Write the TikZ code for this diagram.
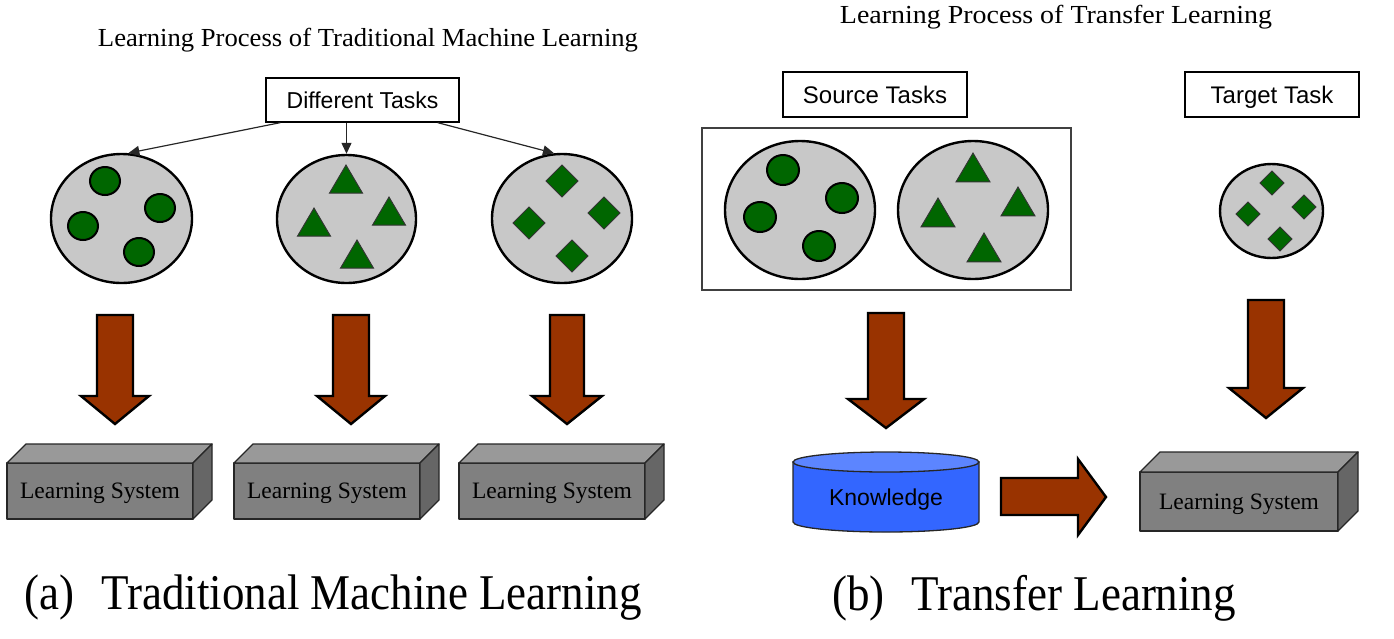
\documentclass[tikz,border=0pt]{standalone}
\usepackage{fontspec}
\setmainfont{Liberation Serif}
\newfontfamily\arialf{Liberation Sans}
\usetikzlibrary{shapes.geometric,arrows.meta,calc}
\definecolor{taskgray}{RGB}{200,200,200}
\definecolor{dotgreen}{RGB}{0,102,0}
\definecolor{brownarr}{RGB}{153,51,0}
\definecolor{kblue}{RGB}{51,102,255}
\definecolor{kbluetop}{RGB}{92,133,255}
\definecolor{frontgray}{RGB}{128,128,128}
\definecolor{topgray}{RGB}{153,153,153}
\definecolor{sidegray}{RGB}{102,102,102}
\newcommand\fs[1]{\fontsize{#1}{#1}\selectfont}
% small shapes
\newcommand\dotc[3]{\filldraw[dotstyle] (#1,#2) ellipse[x radius=#3, y radius={#3-1}];}
\newcommand\tri[3]{\filldraw[tristyle] (#1,#2) -- ({#1-#3/2},{#2+0.85*#3}) -- ({#1+#3/2},{#2+0.85*#3}) -- cycle;}
\newcommand\dia[3]{\filldraw[tristyle] ({#1-#3},#2) -- (#1,{#2-#3}) -- ({#1+#3},#2) -- (#1,{#2+#3}) -- cycle;}
% big brown down arrow: cx, top, neck, tip, half shaft, half head
\newcommand\brownDown[6]{\filldraw[brownstyle] ({#1-#5},#2) -- ({#1+#5},#2) -- ({#1+#5},#3) -- ({#1+#6},#3) -- (#1,#4) -- ({#1-#6},#3) -- ({#1-#5},#3) -- cycle;}
% learning system box: name, x0, y0, w, h, d
\newcommand\lsBox[6]{%
  \filldraw[boxline,fill=frontgray] (#2,#3) rectangle ({#2+#4},{#3+#5});
  \filldraw[boxline,fill=topgray] (#2,#3) -- ({#2+#6},{#3-#6}) -- ({#2+#4+#6},{#3-#6}) -- ({#2+#4},#3) -- cycle;
  \filldraw[boxline,fill=sidegray] ({#2+#4},#3) -- ({#2+#4+#6},{#3-#6}) -- ({#2+#4+#6},{#3+#5-#6}) -- ({#2+#4},{#3+#5}) -- cycle;
  \node[lstext] (#1) at ({#2+#4/2},{#3+#5/2}) {Learning System};}
\begin{document}
\begin{tikzpicture}[x=1pt,y=-1pt,
  taskbox/.style={draw=black, line width=1.3pt, fill=white, inner sep=0pt, font=\arialf\fs{23}, text height=16.5pt, text depth=0pt},
  taskset/.style={ellipse, draw=black, line width=2.4pt, fill=taskgray, inner sep=0pt},
  dotstyle/.style={draw=black, line width=2pt, fill=dotgreen},
  tristyle/.style={draw=black!80, line width=0.9pt, fill=dotgreen},
  brownstyle/.style={draw=black, line width=2.4pt, fill=brownarr, line join=miter},
  boxline/.style={draw=black!85, line width=1.3pt, line join=round},
  lstext/.style={font=\fs{23.5}, inner sep=0pt, text height=15.5pt, text depth=0pt},
  thinarrow/.style={draw=black!85, line width=1.2pt, -{Triangle[length=11pt,width=10pt]}},
  titletext/.style={font=\fs{26}, inner sep=0pt},
  captext/.style={font=\fs{50}, inner sep=0pt}]
\useasboundingbox (0,0) rectangle (1394,638);

% ---------- titles ----------
\node[titletext] (t1) at (368,40) {\scalebox{1.025}[1]{Learning Process of Traditional Machine Learning}};
\node[titletext] (t2) at (1056,17) {\scalebox{1.075}[1]{Learning Process of Transfer Learning}};

% ---------- left part ----------
\node[taskbox, minimum width=193, minimum height=44] (dt) at (362.5,100) {Different Tasks};
\node[taskset, minimum width=141, minimum height=129] (e1) at (121.5,218.5) {};
\node[taskset, minimum width=139, minimum height=128] (e2) at (346.5,219) {};
\node[taskset, minimum width=140, minimum height=129] (e3) at (562,218.5) {};
\draw[thinarrow] ($(dt.south west)+(15,0)$) -- (e1.84);
\draw[thinarrow] (dt.south -| e2.north) -- (e2.north);
\draw[thinarrow] ($(dt.south east)+(-22,0)$) -- (e3.97);

\dotc{105}{181}{15}\dotc{160}{208}{15}\dotc{83}{226}{15}\dotc{139}{252}{15}
\tri{346}{165}{33}\tri{389}{197}{33}\tri{314}{208}{33}\tri{357}{240}{33}
\dia{562}{181}{16}\dia{604}{213}{16}\dia{529}{223}{16}\dia{572}{256}{16}

\brownDown{115}{315}{396}{424}{18}{34}
\brownDown{351}{315}{396}{424}{18}{34}
\brownDown{567}{315}{396}{424}{17}{35}

\lsBox{ls1}{7}{463}{186}{56}{19}
\lsBox{ls2}{234}{463}{186}{56}{19}
\lsBox{ls3}{459}{463}{186}{56}{19}

% ---------- right part ----------
\node[taskbox, minimum width=184, minimum height=45, font=\arialf\fs{24}, text height=17pt] (st) at (875,94.5) {Source Tasks};
\node[taskbox, minimum width=174, minimum height=45, font=\arialf\fs{24}, text height=17pt] (tt) at (1272,94.5) {Target Task};
\node[draw=black!75, line width=1.2pt, minimum width=369, minimum height=162, inner sep=0pt] (srcframe) at (886.5,209) {};
\node[taskset, minimum width=150, minimum height=138] (s1) at (800,210) {};
\node[taskset, minimum width=150, minimum height=138] (s2) at (973,210) {};
\node[taskset, minimum width=103, minimum height=94] (tg) at (1271.5,211) {};

\dotc{783}{170}{16}\dotc{842}{198}{16}\dotc{760}{217}{16}\dotc{819}{246}{16}
\tri{973}{153}{34}\tri{1018}{187}{34}\tri{938}{198}{34}\tri{984}{233}{34}
\dia{1272}{183}{12}\dia{1304}{207}{12}\dia{1248}{214}{12}\dia{1280}{239}{12}

\brownDown{886}{313}{399}{428}{18}{38}
\brownDown{1266}{300}{388}{418}{18}{37}

% knowledge cylinder
\filldraw[draw=black!85, line width=1.3pt, fill=kblue] (793,462) -- (793,522) arc[start angle=180, end angle=0, x radius=93, y radius=10] -- (979,462) -- cycle;
\filldraw[draw=black!85, line width=1.3pt, fill=kbluetop] (886,462) ellipse[x radius=93, y radius=10];
\node[font=\arialf\fs{23}, inner sep=0pt, text height=16.5pt, text depth=0pt] (kn) at (886,497) {Knowledge};

% right arrow
\filldraw[brownstyle] (1001,478) -- (1078,478) -- (1078,459) -- (1106,497) -- (1078,535) -- (1078,515) -- (1001,515) -- cycle;

\lsBox{ls4}{1140}{472}{198}{59}{20}

% ---------- captions ----------
\node[captext] (ca) at (333,598) {\scalebox{0.9}[1]{(a)\hspace{0.6em}Traditional Machine Learning}};
\node[captext] (cb) at (1034,598) {\scalebox{0.9}[1]{(b)\hspace{0.6em}Transfer Learning}};
\end{tikzpicture}
\end{document}
